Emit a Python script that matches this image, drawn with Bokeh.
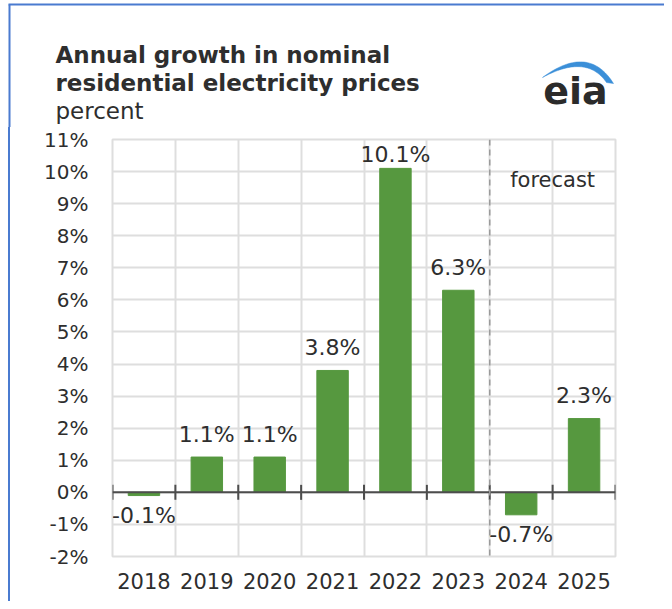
import numpy as np
from bokeh.plotting import figure
from bokeh.models import Range1d, FixedTicker, Span, ColumnDataSource, Label
from bokeh.layouts import column, row
from bokeh.core.properties import value
from bokeh.embed import file_html
from bokeh.resources import INLINE

# ---- data ----
years = ["2018", "2019", "2020", "2021", "2022", "2023", "2024", "2025"]
growth = [-0.1, 1.1, 1.1, 3.8, 10.1, 6.3, -0.7, 2.3]
growth_labels = ["-0.1%", "1.1%", "1.1%", "3.8%", "10.1%", "6.3%", "-0.7%", "2.3%"]
y_ticks = list(range(-2, 12))
y_tick_labels = [f"{t}%" for t in y_ticks]
forecast_years = ["2024", "2025"]

title_lines = ["Annual growth in nominal", "residential electricity prices"]
unit_text = "percent"
logo_text = "eia"

FONT = "DejaVu Sans"
TEXT = "#2e2e2e"
GREEN = "#56983f"
GRID = "#dedede"
BLUE_BORDER = "#4a7bd0"

# ---- sizes (pixels) ----
W = 664
HH = 127                      # header height
CH = 601 - HH                 # chart figure height
ML, MR, MT, MB = 112, 49, 12, 45

# ---- header figure (title, unit, logo); data units == pixels ----
head = figure(width=W, height=HH, x_range=Range1d(0, W), y_range=Range1d(HH, 0),
              output_backend="svg", toolbar_location=None, min_border=0,
              x_axis_location=None, y_axis_location=None)
head.grid.visible = False
head.outline_line_color = None
head.background_fill_color = "white"
head.border_fill_color = "white"

# frame lines of the screenshot
head.segment(x0=[8], y0=[4], x1=[W], y1=[4], line_color=BLUE_BORDER, line_width=2)
head.segment(x0=[9], y0=[4], x1=[9], y1=[HH], line_color=BLUE_BORDER, line_width=2)

head.text(x=[55, 55], y=[54, 82], text=title_lines, text_font=value(FONT),
          text_font_style="bold", text_font_size="23px", text_color=TEXT,
          text_baseline="alphabetic", text_align="left")
head.text(x=[55], y=[110], text=[unit_text], text_font=value(FONT),
          text_font_size="23px", text_color=TEXT, text_baseline="alphabetic", text_align="left")

t = np.linspace(0, 1, 40)
def qb(p0, p1, p2):
    return ((1 - t) ** 2)[:, None] * np.array(p0) + (2 * (1 - t) * t)[:, None] * np.array(p1) + (t ** 2)[:, None] * np.array(p2)
outer = qb((542, 77), (588, 43), (613, 83))
inner = qb((542, 77), (586, 53), (606, 82))
sw = np.vstack([outer, inner[::-1]])
head.patch(x=sw[:, 0], y=sw[:, 1], fill_color="#3b8fd8", line_color="#3b8fd8", line_width=0.5)
head.text(x=[575], y=[90], text=[logo_text], text_font=value(FONT), text_font_style="bold",
          text_font_size="38px", text_color="#2b2b2b", text_align="center", text_baseline="alphabetic")

# ---- chart figure ----
n = len(years)
ymin, ymax = y_ticks[0], y_ticks[-1]
FH = CH - MT - MB
ppy = FH / (ymax - ymin)
xs = [i + 0.5 for i in range(n)]

p = figure(width=W, height=CH, x_range=Range1d(0, n), y_range=Range1d(ymin, ymax),
           output_backend="svg", toolbar_location=None,
           min_border_left=ML, min_border_right=MR, min_border_top=MT, min_border_bottom=MB)
p.background_fill_color = "white"
p.border_fill_color = None
p.styles = {"background": f"linear-gradient(90deg, #ffffff 0 8px, {BLUE_BORDER} 8px 10px, #ffffff 10px 100%)"}
p.outline_line_color = GRID
p.outline_line_width = 2

# grid
p.xgrid.ticker = FixedTicker(ticks=list(range(n + 1)))
p.xgrid.grid_line_color = GRID
p.xgrid.grid_line_width = 2
p.ygrid.grid_line_color = GRID
p.ygrid.grid_line_width = 2

# y axis
p.yaxis.ticker = FixedTicker(ticks=y_ticks)
p.yaxis.major_label_overrides = {tk: lab for tk, lab in zip(y_ticks, y_tick_labels)}
p.yaxis.axis_line_color = None
p.yaxis.major_tick_line_color = None
p.yaxis.minor_tick_line_color = None
p.yaxis.major_tick_out = 0
p.yaxis.major_tick_in = 0
p.yaxis.major_label_standoff = 24
p.yaxis.major_label_text_font = FONT
p.yaxis.major_label_text_font_size = "20px"
p.yaxis.major_label_text_color = TEXT

# x axis
p.xaxis.ticker = FixedTicker(ticks=xs)
p.xaxis.major_label_overrides = {x: y for x, y in zip(xs, years)}
p.xaxis.axis_line_color = None
p.xaxis.major_tick_line_color = None
p.xaxis.minor_tick_line_color = None
p.xaxis.major_tick_out = 0
p.xaxis.major_tick_in = 0
p.xaxis.major_label_standoff = 16
p.xaxis.major_label_text_font = FONT
p.xaxis.major_label_text_font_size = "21px"
p.xaxis.major_label_text_color = TEXT

# bars
src = ColumnDataSource(dict(x=xs, top=growth, label=growth_labels))
p.vbar(x="x", top="top", bottom=0, width=0.5, source=src, fill_color=GREEN, line_color=GREEN)

# zero line with tick marks at category boundaries
p.add_layout(Span(location=0, dimension="width", line_color="#4d4d4d", line_width=2))
bounds = list(range(n + 1))
tick_half = 7.5 / ppy
p.segment(x0=bounds, y0=[-tick_half] * len(bounds), x1=bounds, y1=[tick_half] * len(bounds),
          line_color="#4d4d4d", line_width=2)

# forecast divider
f0 = years.index(forecast_years[0])
p.add_layout(Span(location=f0, dimension="height", line_color="#9a9a9a", line_width=1.5, line_dash="6 4"))
p.add_layout(Label(x=f0 + len(forecast_years) / 2, y=9.75, text="forecast", text_font=FONT,
                   text_font_size="21px", text_color=TEXT, text_align="center", text_baseline="middle"))

# value labels (above positive bars but kept inside the frame, below negative bars)
pos = [i for i, v in enumerate(growth) if v >= 0]
neg = [i for i, v in enumerate(growth) if v < 0]
pos_y = [min(growth[i] + 23 / ppy, ymax - 15 / ppy) for i in pos]
p.text(x=[xs[i] for i in pos], y=pos_y, text=[growth_labels[i] for i in pos],
       text_font=value(FONT), text_font_size="22px", text_color=TEXT,
       text_align="center", text_baseline="alphabetic")
p.text(x=[xs[i] for i in neg], y=[growth[i] for i in neg], text=[growth_labels[i] for i in neg],
       text_font=value(FONT), text_font_size="22px", text_color=TEXT,
       text_align="center", text_baseline="alphabetic", y_offset=20)

layout = column(row(head), p, spacing=0)
open("out.html", "w").write(file_html(layout, INLINE))
